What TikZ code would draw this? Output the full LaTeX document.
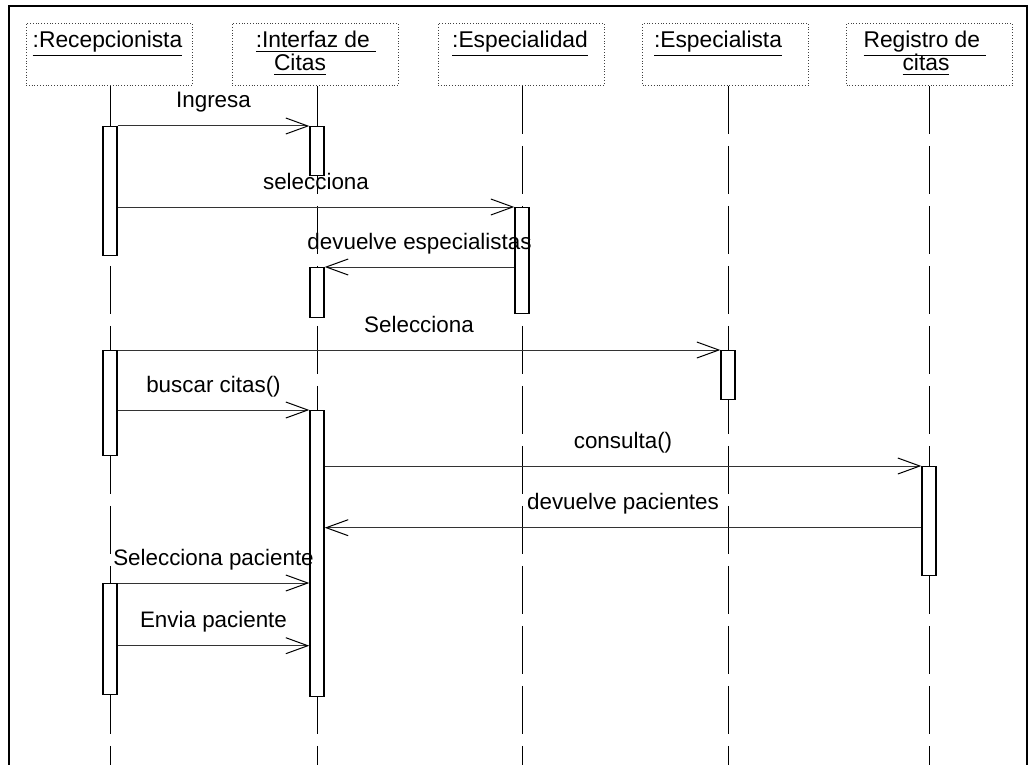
\documentclass[tikz,border=0pt]{standalone}
\usepackage{fontspec}
\setmainfont{Liberation Sans}
\usetikzlibrary{arrows.meta,backgrounds}

\tikzset{
  objbox/.style={draw=black!75, densely dotted, minimum width=83pt, minimum height=31pt, inner sep=0pt, anchor=north},
  objname/.style={inner sep=0pt, anchor=base, font=\fontsize{11.4}{13}\selectfont},
  act/.style={draw, line width=0.7pt, fill=white, minimum width=7pt, inner sep=0pt, anchor=north},
  msg/.style={draw=black!80, line width=0.5pt, -{Straight Barb[length=11pt,width=8pt,black]}},
  lbl/.style={anchor=base, yshift=9pt, inner sep=0pt, font=\fontsize{11.2}{13}\selectfont},
  lifeline/.style={line width=0.5pt, dash pattern=on 24pt off 6pt},
}

\begin{document}
\begin{tikzpicture}[x=0.5pt, y=-0.5pt]
\useasboundingbox (0,0) rectangle (1033,765);
\coordinate (fondo) at (0,765);

% marco
\draw[line width=0.9pt] (9,790) rectangle (1027,6);

% objetos
\node[objbox] (rec) at (109,23) {};
\node[objbox] (int) at (315,23) {};
\node[objbox] (esp) at (521,23) {};
\node[objbox] (est) at (725.5,23) {};
\node[objbox] (reg) at (929.5,23) {};

\node[objname] (recname) at (107.5,48) {\underline{:Recepcionista}};
\node[objname] (intname) at (316,48) {\underline{:Interfaz de\ }};
\node[objname] (intname2) at (300,71) {\underline{Citas}};
\node[objname] (espname) at (520,48) {\underline{:Especialidad}};
\node[objname] (estname) at (718,48) {\underline{:Especialista}};
\node[objname] (regname) at (925,48) {\underline{Registro de\ }};
\node[objname] (regname2) at (926,71) {\underline{citas}};

% activaciones
\node[act, minimum height=64.5pt] (a1) at (110,126) {};
\node[act, minimum height=52.5pt] (a2) at (110,350) {};
\node[act, minimum height=55.5pt] (a3) at (110,583) {};
\node[act, minimum height=24.5pt] (b1) at (317,126) {};
\node[act, minimum height=25pt] (b2) at (317,267) {};
\node[act, minimum height=143pt] (b3) at (317,410) {};
\node[act, minimum height=53pt] (c1) at (522,207) {};
\node[act, minimum height=24.5pt] (d1) at (728,350) {};
\node[act, minimum height=54.5pt] (e1) at (929,466) {};

% lineas de vida
\begin{scope}[on background layer]
\draw[lifeline] (a1 |- rec.south) -- (a1 |- fondo);
\draw[lifeline] (b1 |- int.south) -- (b1 |- fondo);
\draw[lifeline] (c1 |- esp.south) -- (c1 |- fondo);
\draw[lifeline] (d1 |- est.south) -- (d1 |- fondo);
\draw[lifeline] (e1 |- reg.south) -- (e1 |- fondo);
\end{scope}

% mensajes
\draw[msg] (a1.north east) -- node[lbl] (m1) {Ingresa} (b1.north west);
\draw[msg] (a1.east |- c1.north) -- node[lbl] (m2) {selecciona} (c1.north west);
\draw[msg] (c1.west |- b2.north) -- node[lbl] (m3) {devuelve especialistas} (b2.north east);
\draw[msg] (a2.north east) -- node[lbl] (m4) {Selecciona} (d1.north west);
\draw[msg] (a2.east |- b3.north) -- node[lbl] (m5) {buscar citas()} (b3.north west);
\draw[msg] (b3.east |- e1.north) -- node[lbl] (m6) {consulta()} (e1.north west);
\coordinate (m7s) at ([yshift=-3.25pt]e1.west);
\draw[msg] (m7s) -- node[lbl] (m7) {devuelve pacientes} (m7s -| b3.east);
\draw[msg] (a3.north east) -- node[lbl] (m8) {Selecciona paciente} (a3.north east -| b3.west);
\coordinate (m9s) at ([yshift=-3.25pt]a3.east);
\draw[msg] (m9s) -- node[lbl] (m9) {Envia paciente} (m9s -| b3.west);

\end{tikzpicture}
\end{document}
